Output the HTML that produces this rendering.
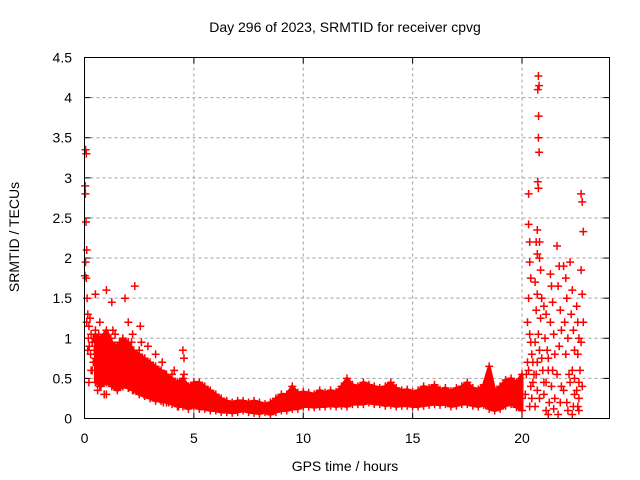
<!DOCTYPE html>
<html><head><meta charset="utf-8"><style>
html,body{margin:0;padding:0;background:#fff;}
svg{display:block;font-family:"Liberation Sans",sans-serif;}
</style></head><body>
<svg id="chart" width="640" height="480" viewBox="0 0 640 480" xmlns="http://www.w3.org/2000/svg">
<rect width="640" height="480" fill="#fff"/>
<text x="345" y="32" font-size="14" text-anchor="middle">Day 296 of 2023, SRMTID for receiver cpvg</text>
<text transform="translate(19,237) rotate(-90)" font-size="14" text-anchor="middle">SRMTID / TECUs</text>
<text x="345" y="471" font-size="14" text-anchor="middle">GPS time / hours</text>
<g id="grid"></g>
<g id="ticks"></g>
<g id="points"></g>
<rect x="84.5" y="57.5" width="525" height="361" fill="none" stroke="#000" stroke-width="1"/>
</svg>
<script>
const xTicks=[0,5,10,15,20];
const yTicks=[0,0.5,1,1.5,2,2.5,3,3.5,4,4.5];
const yTickLabels=["0","0.5","1","1.5","2","2.5","3","3.5","4","4.5"];
const leftHours=[0.03,0.05,0.08,0.04,0.07,0.10,0.05,0.02,0.08,0.12,
0.15,0.10,0.20,0.18,0.25,0.22,0.30,0.28,0.35,0.20,
0.40,0.45,0.50,0.55,0.60,0.50,0.65,0.70,0.75,0.80,
0.85,0.90,0.70,0.95,1.00,1.05,1.10,0.90,1.15,1.20,
1.25,1.30,1.35,1.40,1.50,1.45,1.60,1.70,1.75,1.80,
1.85,1.90,2.00,2.05,2.10,2.15,2.20,2.25,2.30,2.35,
2.40,2.50,2.55,2.60,2.70,2.75,2.80,2.90,3.00,3.05,
3.10,3.20,3.25,3.30,3.40,3.50,3.55,3.60,3.70,3.80,
3.85,3.90,4.00,4.10,4.20,4.25,4.30,4.40,4.50,4.55,
4.60,4.70,4.80,4.90,1.00,1.30,0.60,2.60,0.30,2.20,
1.70,3.60,0.80,2.00,1.50,3.00,4.00,0.40,1.10,2.90,
0.15,0.35,0.55,0.75,0.95,1.15,1.35,1.55,1.75,1.95,
2.15,2.35,2.55,2.75,2.95,3.15,3.35,3.55,3.75,3.95,
4.15,4.35,4.55,4.75,4.95,0.65,1.25,1.85,2.45,3.45];
const leftValues=[2.90,3.35,3.30,2.80,2.45,2.10,1.95,1.78,1.75,1.50,
1.30,1.20,1.15,1.00,1.25,0.90,1.05,0.80,0.95,0.45,
0.70,0.85,1.10,0.60,0.90,1.55,0.75,0.40,1.00,0.55,
0.90,0.30,1.20,0.65,1.60,0.85,0.50,1.05,0.70,1.00,
1.45,0.75,0.55,1.05,0.85,0.40,0.95,0.65,1.00,0.70,
1.50,0.90,1.20,0.60,0.80,0.95,1.05,0.55,1.65,0.70,
0.45,0.85,1.15,0.60,0.30,0.75,0.50,0.90,0.40,0.65,
0.55,0.35,0.80,0.60,0.25,0.45,0.70,0.30,0.55,0.40,
0.20,0.50,0.35,0.60,0.25,0.45,0.15,0.30,0.85,0.55,
0.25,0.40,0.20,0.35,0.30,1.10,0.35,0.95,0.60,0.35,
0.50,0.20,0.75,0.40,0.65,0.25,0.55,1.00,0.90,0.30,
0.85,0.60,0.95,0.85,0.80,0.95,0.90,0.70,0.85,0.80,
0.75,0.80,0.65,0.55,0.55,0.60,0.45,0.50,0.35,0.30,
0.40,0.35,0.75,0.30,0.30,1.05,0.65,0.90,0.70,0.50];
const bandHours=[0.5,0.75,1,1.25,1.5,1.75,2,2.25,2.5,2.75,3,3.25,3.5,3.75,4,4.25,4.5,4.75,
5,5.25,5.5,5.75,6,6.25,6.5,6.75,7,7.25,7.5,7.75,8,8.25,8.5,8.75,9,9.25,9.5,9.75,
10,10.25,10.5,10.75,11,11.25,11.5,11.75,12,12.25,12.5,12.75,13,13.25,13.5,13.75,14,14.25,14.5,14.75,
15,15.25,15.5,15.75,16,16.25,16.5,16.75,17,17.25,17.5,17.75,18,18.25,18.5,18.75,19,19.25,19.5,19.75,20];
const bandLow=[.45,.40,.45,.40,.35,.40,.38,.35,.30,.28,.25,.22,.22,.20,.18,.15,.15,.12,
.15,.12,.12,.10,.10,.08,.08,.07,.08,.10,.08,.07,.06,.08,.05,.08,.10,.10,.12,.12,
.15,.15,.14,.15,.15,.16,.15,.16,.15,.18,.18,.18,.20,.18,.18,.16,.17,.15,.16,.16,
.15,.15,.16,.17,.18,.17,.18,.15,.16,.18,.18,.16,.15,.17,.12,.10,.12,.16,.18,.14,.10];
const bandMid=[.75,.70,.80,.70,.65,.75,.70,.60,.55,.50,.48,.45,.40,.38,.35,.30,.30,.25,
.30,.28,.25,.22,.18,.16,.15,.14,.15,.16,.15,.15,.14,.13,.12,.16,.18,.20,.22,.22,
.25,.24,.23,.25,.24,.26,.25,.27,.28,.30,.30,.32,.30,.30,.28,.27,.30,.28,.25,.26,
.24,.25,.27,.28,.30,.28,.30,.26,.26,.30,.32,.28,.25,.28,.22,.20,.25,.32,.35,.28,.25];
const bandHigh=[1.05,1.00,1.10,.95,.90,1.00,.95,.85,.80,.75,.70,.65,.60,.55,.50,.45,.50,.40,
.45,.45,.40,.35,.30,.25,.22,.20,.22,.22,.20,.22,.20,.18,.20,.25,.30,.30,.40,.32,
.33,.32,.30,.35,.32,.35,.33,.40,.50,.42,.40,.45,.42,.40,.38,.40,.45,.38,.35,.36,
.33,.35,.40,.38,.42,.36,.38,.34,.38,.40,.45,.38,.36,.42,.65,.35,.40,.48,.50,.45,.55];
const rightHours=[20.15,20.2,20.25,20.3,20.3,20.35,20.35,20.4,20.3,20.25,
20.35,20.4,20.45,20.3,20.5,20.4,20.45,20.35,20.5,20.55,
20.75,20.78,20.72,20.76,20.75,20.78,20.72,20.75,20.7,20.8,
20.65,20.7,20.8,20.85,20.6,20.7,20.9,20.65,20.85,20.75,
20.6,20.8,20.9,20.65,20.7,20.95,21.0,20.8,20.6,20.7,
21.0,21.1,21.05,21.15,21.2,21.1,21.0,21.25,21.1,21.2,
21.3,21.35,21.4,21.3,21.45,21.5,21.4,21.35,21.5,21.45,
21.6,21.7,21.65,21.75,21.8,21.7,21.6,21.8,21.75,21.65,
21.9,22.0,22.05,21.95,22.1,22.0,22.15,21.9,22.05,22.1,
22.2,22.3,22.25,22.35,22.4,22.3,22.2,22.4,22.35,22.3,
22.5,22.55,22.6,22.55,22.65,22.6,22.5,22.6,22.55,22.6,
22.7,22.75,22.8,22.7,22.75,22.8,22.7,22.75,22.4,21.2];
const rightValues=[0.30,0.55,0.70,2.80,2.42,2.20,1.95,1.75,1.50,1.20,
1.05,0.95,0.80,0.60,0.45,0.40,0.25,0.15,0.70,0.55,
4.27,4.15,4.10,3.77,3.50,3.32,2.95,2.87,2.35,2.20,
2.20,2.05,2.00,1.85,1.70,1.55,1.50,1.35,1.25,1.05,
0.95,0.85,0.75,0.55,0.35,0.60,0.45,0.25,0.15,0.70,
1.40,1.30,1.00,0.85,0.60,0.45,0.30,0.20,0.10,0.05,
1.80,1.65,1.45,1.20,1.05,0.80,0.60,0.40,0.25,0.12,
2.15,1.90,1.65,1.35,1.10,0.90,0.55,0.40,0.20,0.05,
1.90,1.75,1.50,1.20,1.00,0.80,0.55,0.35,0.20,0.10,
1.95,1.60,1.30,1.10,0.85,0.60,0.45,0.30,0.15,0.05,
1.40,1.20,1.00,0.80,0.60,0.45,0.35,0.25,0.15,0.10,
2.80,2.70,2.33,1.85,1.55,1.20,0.95,0.40,0.50,0.75];

const X0=84.5,X1=609.5,Y0=418.5,Y1=57.5,XMAX=24,YMAX=4.5;
function xs(t){return X0+(t/XMAX)*(X1-X0);}
function ys(v){return Y0-(v/YMAX)*(Y0-Y1);}
const NS="http://www.w3.org/2000/svg";
const grid=document.getElementById('grid'),ticks=document.getElementById('ticks'),pts=document.getElementById('points');
function mk(tag,attrs,parent){const e=document.createElementNS(NS,tag);for(const k in attrs)e.setAttribute(k,attrs[k]);parent.appendChild(e);return e;}
xTicks.forEach(t=>{
  const x=xs(t);
  if(t>0){const g=mk('line',{x1:x,y1:Y0,x2:x,y2:Y1,stroke:'#a0a0a0','stroke-dasharray':'3,3'},grid);
  
  }
  mk('line',{x1:x,y1:Y0,x2:x,y2:Y0-6,stroke:'#000'},ticks);
  mk('line',{x1:x,y1:Y1,x2:x,y2:Y1+6,stroke:'#000'},ticks);
  const l=mk('text',{x:x,y:443,'font-size':'14','text-anchor':'middle'},ticks);
  l.textContent=String(t);
  
  
});
yTicks.forEach((v,i)=>{
  const y=ys(v);
  if(v>0&&v<YMAX){const g=mk('line',{x1:X0,y1:y,x2:X1,y2:y,stroke:'#a0a0a0','stroke-dasharray':'3,3'},grid);
  
  }
  mk('line',{x1:X0,y1:y,x2:X0+6,y2:y,stroke:'#000'},ticks);
  mk('line',{x1:X1,y1:y,x2:X1-6,y2:y,stroke:'#000'},ticks);
  const l=mk('text',{x:72,y:y+5,'font-size':'14','text-anchor':'end'},ticks);
  l.textContent=yTickLabels[i];
  
  
});
// dense band fill between low and high values
let poly='';
bandHours.forEach((t,i)=>{poly+=(i?'L':'M')+xs(t).toFixed(1)+' '+ys(bandHigh[i]).toFixed(1);});
for(let i=bandHours.length-1;i>=0;i--){poly+='L'+xs(bandHours[i]).toFixed(1)+' '+ys(bandLow[i]).toFixed(1);}
poly+='Z';
const area=mk('path',{d:poly,fill:'#ff0000',stroke:'#ff0000','stroke-width':'3','stroke-linejoin':'round'},pts);


let d='';
function cross(t,v){const x=xs(t),y=ys(v);d+=`M${(x-4).toFixed(1)} ${y.toFixed(1)}h8M${x.toFixed(1)} ${(y-4).toFixed(1)}v8`;}
leftHours.forEach((t,i)=>cross(t,leftValues[i]));
bandHours.forEach((t,i)=>{cross(t,bandLow[i]);cross(t,bandMid[i]);cross(t,bandHigh[i]);});
rightHours.forEach((t,i)=>cross(t,rightValues[i]));
const p=mk('path',{d:d,stroke:'#ff0000','stroke-width':'1.5',fill:'none'},pts);


</script>
</body></html>
